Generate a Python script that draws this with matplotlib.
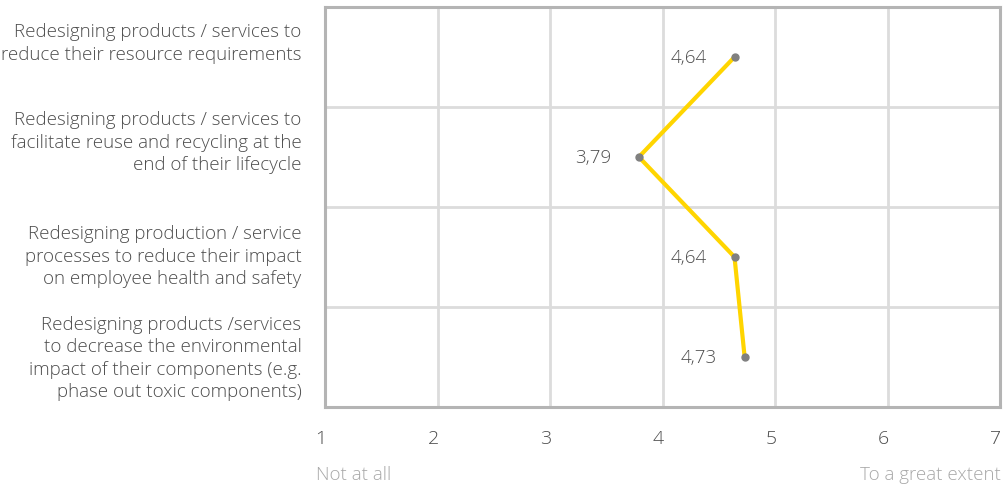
import matplotlib
matplotlib.use("Agg")
import matplotlib.pyplot as plt
from matplotlib.ticker import FixedLocator
from matplotlib import transforms

plt.rcParams['font.family'] = ['Open Sans', 'DejaVu Sans']

categories = [
    "Redesigning products / services to\nreduce their resource requirements",
    "Redesigning products / services to\nfacilitate reuse and recycling at the\nend of their lifecycle",
    "Redesigning production / service\nprocesses to reduce their impact\non employee health and safety",
    "Redesigning products /services\nto decrease the environmental\nimpact of their components (e.g.\nphase out toxic components)",
]
values = [4.64, 3.79, 4.64, 4.73]
x_ticks = [1, 2, 3, 4, 5, 6, 7]
scale_low = "Not at all"
scale_high = "To a great extent"

W, H = 1005, 489
fig = plt.figure(figsize=(W / 100, H / 100), dpi=100)
ax = fig.add_axes([325 / W, 1 - 408 / H, 675 / W, 400 / H])

rows = list(range(len(categories)))
ax.set_xlim(1, 7)
ax.set_ylim(len(categories) - 0.5, -0.5)

# grid: vertical at each scale point, horizontal between rows
ax.xaxis.set_major_locator(FixedLocator(x_ticks))
ax.yaxis.set_major_locator(FixedLocator(rows))
ax.yaxis.set_minor_locator(FixedLocator([r + 0.5 for r in rows[:-1]]))
ax.grid(True, axis='x', which='major', color='#dcdcdc', linewidth=2)
ax.grid(True, axis='y', which='minor', color='#dcdcdc', linewidth=2)
ax.set_axisbelow(True)

for side, sp in ax.spines.items():
    sp.set_color('#b4b4b4')
    sp.set_linewidth(2.2)

txt = dict(color='#4d4d4d', fontweight='light')

ax.tick_params(axis='both', which='both', length=0)
ax.set_xticklabels([str(t) for t in x_ticks], fontsize=14, **txt)
ax.tick_params(axis='x', pad=15.5)
shift = transforms.ScaledTranslation(-4 / 100, 0, fig.dpi_scale_trans)
for lbl in ax.get_xticklabels():
    lbl.set_transform(lbl.get_transform() + shift)

ax.set_yticklabels(categories, fontsize=13.5, linespacing=1.3, **txt)
ax.tick_params(axis='y', pad=17)
# category labels sit slightly above their row centres (pixels)
label_lift = [18.5, 19.5, 5.5, 3.5]
for lbl, lift in zip(ax.get_yticklabels(), label_lift):
    lbl.set_horizontalalignment('right')
    lbl.set_multialignment('right')
    lbl.set_transform(lbl.get_transform() +
                      transforms.ScaledTranslation(0, lift / 100, fig.dpi_scale_trans))

ax.plot(values, rows, color='#ffd500', linewidth=3, solid_joinstyle='miter', zorder=3)
ax.plot(values, rows, linestyle='none', marker='o', markersize=5,
        color='#808080', zorder=4)

for v, r in zip(values, rows):
    ax.annotate(f"{v:.2f}".replace('.', ','), (v, r), xytext=(-20, 0),
                textcoords='offset points', ha='right', va='center',
                fontsize=13.5, **txt)

fig.text(316 / W, 1 - 475 / H, scale_low, ha='left', va='center',
         fontsize=13.5, color='#a8a8a8', fontweight='light')
fig.text(1001 / W, 1 - 475 / H, scale_high, ha='right', va='center',
         fontsize=13.5, color='#a8a8a8', fontweight='light')

fig.savefig("out.png", dpi=100)
